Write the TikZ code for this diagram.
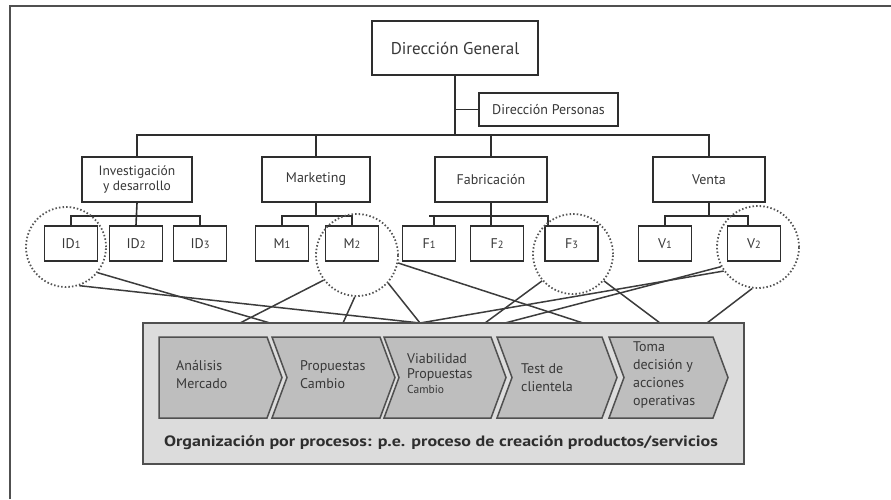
\documentclass[tikz,border=0pt]{standalone}
\usepackage{fontspec}
\setmainfont{PT Sans}
\usetikzlibrary{calc}

\definecolor{ink}{HTML}{2E2E2E}
\definecolor{txt}{HTML}{383838}
\definecolor{framec}{HTML}{505050}
\definecolor{linec}{HTML}{3C3C3C}
\definecolor{dotc}{HTML}{555555}
\definecolor{procfill}{HTML}{DCDCDC}
\definecolor{chevfill}{HTML}{BEBEBE}
\definecolor{chevedge}{HTML}{505050}

\newcommand{\lowdig}[1]{{\fontsize{10.5}{10}\selectfont #1}}

\begin{document}
\begin{tikzpicture}[x=1pt,y=-1pt,
  orgbox/.style={draw=ink, line width=1.8pt, fill=white, inner sep=2pt,
    text=txt, align=center, font=\fontsize{14}{16}\selectfont,
    minimum height=45pt},
  subbox/.style={draw=ink, line width=1.8pt, fill=white, inner sep=1pt,
    text=txt, font=\fontsize{14}{16}\selectfont,
    minimum width=53pt, minimum height=35pt},
  tie/.style={draw=ink, line width=1.6pt},
  ring/.style={circle, draw=dotc, line width=1.8pt, inner sep=0pt,
    dash pattern=on 1.5pt off 2.1pt},
  link/.style={draw=linec, line width=1.5pt},
  chev/.style={draw=chevedge, fill=chevfill, line width=1.5pt, line join=miter},
  steptext/.style={anchor=west, align=left, text=txt, inner sep=0pt,
    font=\fontsize{14}{18}\selectfont},
]
\useasboundingbox (0,0) rectangle (891,499);

% outer frame (top and left edges)
\draw[framec, line width=2.2pt] (10,499) -- (10,6) -- (891,6);

% top management
\node[orgbox, minimum width=166pt, minimum height=54pt,
  font=\fontsize{17}{20}\selectfont] (dg) at (455,48) {Dirección General};
\node[orgbox, minimum width=139pt, minimum height=33pt, inner sep=1pt] (dp) at (548.5,109.5) {Dirección Personas};
\coordinate (bus) at (455,135);

% departments
\node[orgbox, minimum width=110pt, font=\fontsize{13.5}{15}\selectfont] (rd) at (137,179.5) {Investigación\\y desarrollo};
\node[orgbox, minimum width=108pt] (mk) at (316,179.5) {Marketing};
\node[orgbox, minimum width=112pt] (fb) at (491,179.5) {Fabricación};
\node[orgbox, minimum width=112pt] (vt) at (709,179.5) {Venta};

\draw[tie] (dg.south) -- (bus);
\draw[tie] (dp.west) -- (dp.west -| dg.south);
\draw[tie] (rd.north) |- (bus) -| (vt.north);
\draw[tie] (mk.north) -- (mk.north |- bus);
\draw[tie] (fb.north) -- (fb.north |- bus);

% units
\node[subbox] (id1) at (71,243.5) {ID\lowdig{1}};
\node[subbox] (id2) at (136,243.5) {ID\lowdig{2}};
\node[subbox] (id3) at (200,243.5) {ID\lowdig{3}};
\node[subbox] (m1) at (282,243.5) {M\lowdig{1}};
\node[subbox] (m2) at (352,243.5) {M\lowdig{2}};
\node[subbox] (f1) at (429,243.5) {F\lowdig{1}};
\node[subbox] (f2) at (497,243.5) {F\lowdig{2}};
\node[subbox] (f3) at (571.5,243.5) {F\lowdig{3}};
\node[subbox] (v1) at (665,243.5) {V\lowdig{1}};
\node[subbox] (v2) at (754,243.5) {V\lowdig{2}};

\coordinate (subbus) at (0,216);
\draw[tie] (rd.south) -- (id2.north);
\draw[tie] (id1.north) |- (id1.north |- subbus) -| (id3.north);
\draw[tie] (mk.south) -- (mk.south |- subbus);
\draw[tie] (m1.north) |- (m1.north |- subbus) -| (m2.north);
\draw[tie] (fb.south) -- (f2.north -| fb.south);
\draw[tie] ($(f1.north)+(5,0)$) |- (f1.north |- subbus) -| ($(f3.north west)+(4,0)$);
\draw[tie] (vt.south) -- (vt.south |- subbus);
\draw[tie] (v1.north) |- (v1.north |- subbus) -| ($(v2.north)+(-6,0)$);

% highlighted units
\node[ring, minimum size=80pt] (c1) at (66,247) {};
\node[ring, minimum size=82pt] (c2) at (357,255) {};
\node[ring, minimum size=80pt] (c3) at (573,254) {};
\node[ring, minimum size=82pt] (c4) at (758,247) {};

% attachment points on the process band
\coordinate (p1) at (240,323);
\coordinate (p2) at (270,323);
\coordinate (p3) at (343,323);
\coordinate (p4) at (420,323);
\coordinate (p5) at (485,323);
\coordinate (p6) at (505,323);
\coordinate (p7) at (583,323);
\coordinate (p8) at (660,323);
\coordinate (p9) at (707,323);

\draw[link] (c1.-39) -- (p2);
\draw[link] (c1.-71) -- (p4);
\draw[link] (c2.-143) -- (p1);
\draw[link] (c2.-93) -- (p3);
\draw[link] (c2.-42) -- (p4);
\draw[link] (c2.-11) -- (p7);
\draw[link] (c3.-139) -- (p5);
\draw[link] (c3.-41) -- (p8);
\draw[link] (c4.-145) -- (p4);
\draw[link] (c4.-152) -- (p6);
\draw[link] (c4.-98) -- (p9);

% process band
\node[draw=framec, fill=procfill, line width=2pt, minimum width=601pt,
  minimum height=141pt, inner sep=0pt] (proc) at (443.5,393.5) {};

% process steps
\draw[chev] (159,337) -- (267,337) -- (282,377.5) -- (267,418) -- (159,418) -- cycle;
\draw[chev] (272,337) -- (380,337) -- (395,377.5) -- (380,418) -- (272,418) -- (287,377.5) -- cycle;
\draw[chev] (384,337) -- (491,337) -- (506,377.5) -- (491,418) -- (384,418) -- (399,377.5) -- cycle;
\draw[chev] (497,337) -- (602,337) -- (617,377.5) -- (602,418) -- (497,418) -- (512,377.5) -- cycle;
\draw[chev] (609,337) -- (713,337) -- (728,377.5) -- (713,418) -- (609,418) -- (624,377.5) -- cycle;

\node[steptext] (s1) at (176,375) {Análisis\\Mercado};
\node[steptext] (s2) at (300,375) {Propuestas\\Cambio};
\node[steptext, font=\fontsize{14}{15}\selectfont] (s3) at (407,374)
  {Viabilidad\\Propuestas\\{\fontsize{11.5}{15}\selectfont Cambio}};
\node[steptext] (s4) at (521,378) {Test de\\clientela};
\node[steptext] (s5) at (633,375) {Toma\\decisión y\\acciones\\operativas};

\node[text=ink, font=\bfseries\fontsize{15}{16}\selectfont, inner sep=0pt] (cap) at (441,443)
  {\scalebox{1.2}[1]{Organización por procesos: p.e. proceso de creación productos/servicios}};
\end{tikzpicture}
\end{document}
